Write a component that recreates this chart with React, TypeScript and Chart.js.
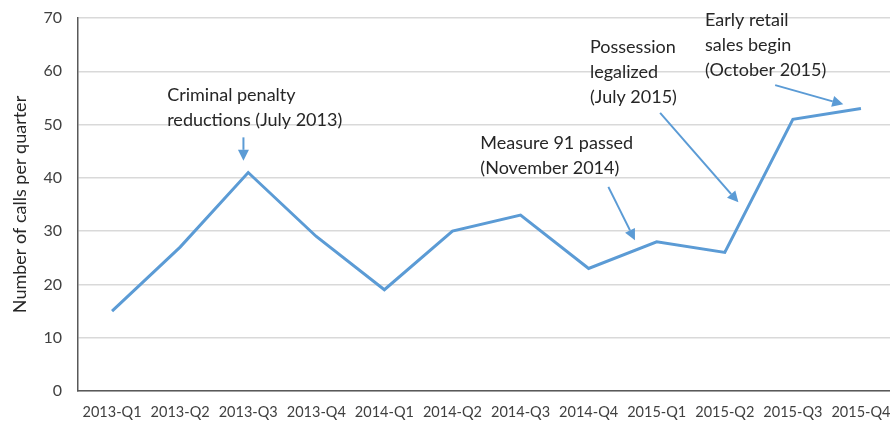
import React, { useEffect, useRef } from "react";
import { Chart, registerables } from "chart.js";

Chart.register(...registerables);

const categories = [
  "2013-Q1", "2013-Q2", "2013-Q3", "2013-Q4",
  "2014-Q1", "2014-Q2", "2014-Q3", "2014-Q4",
  "2015-Q1", "2015-Q2", "2015-Q3", "2015-Q4",
];
const callsPerQuarter = [15, 27, 41, 29, 19, 30, 33, 23, 28, 26, 51, 53];
const yAxisTitle = "Number of calls per quarter";

// annotation texts with anchors in data coordinates (category index, value)
const annotationLines = [
  ["Criminal penalty", "reductions (July 2013)"],
  ["Measure 91 passed", "(November 2014)"],
  ["Possession", "legalized", "(July 2015)"],
  ["Early retail", "sales begin", "(October 2015)"],
];
const annotationTextAt = [
  [0.81, 55.5],
  [5.41, 46.5],
  [7.02, 64.5],
  [8.71, 69.6],
];
const arrowFrom = [
  [1.93, 47.6],
  [7.29, 38.3],
  [8.05, 52.2],
  [9.74, 57.4],
];
const arrowTo = [
  [1.93, 43.2],
  [7.68, 28.3],
  [9.2, 35.4],
  [10.74, 53.8],
];

const FONT = "Lato, 'Open Sans', sans-serif";
const BLUE = "#5B9BD5";

const annotationPlugin = {
  id: "annotations",
  afterDatasetsDraw(chart: any) {
    const { ctx, scales } = chart;
    const xs = scales.x;
    const ys = scales.y;
    ctx.save();
    ctx.font = `18px ${FONT}`;
    ctx.fillStyle = "#262626";
    ctx.textBaseline = "middle";
    ctx.textAlign = "left";
    annotationLines.forEach((lines, i) => {
      const x = xs.getPixelForValue(annotationTextAt[i][0]);
      const y = ys.getPixelForValue(annotationTextAt[i][1]);
      lines.forEach((ln, j) => ctx.fillText(ln, x, y + j * 25));
    });
    ctx.strokeStyle = BLUE;
    ctx.fillStyle = BLUE;
    ctx.lineWidth = 2;
    arrowFrom.forEach((f, i) => {
      const x1 = xs.getPixelForValue(f[0]);
      const y1 = ys.getPixelForValue(f[1]);
      const x2 = xs.getPixelForValue(arrowTo[i][0]);
      const y2 = ys.getPixelForValue(arrowTo[i][1]);
      const ang = Math.atan2(y2 - y1, x2 - x1);
      const head = 11;
      const hw = 5.5;
      const bx = x2 - head * Math.cos(ang);
      const by = y2 - head * Math.sin(ang);
      ctx.beginPath();
      ctx.moveTo(x1, y1);
      ctx.lineTo(bx, by);
      ctx.stroke();
      ctx.beginPath();
      ctx.moveTo(x2, y2);
      ctx.lineTo(bx + hw * Math.sin(ang), by - hw * Math.cos(ang));
      ctx.lineTo(bx - hw * Math.sin(ang), by + hw * Math.cos(ang));
      ctx.closePath();
      ctx.fill();
    });
    ctx.restore();
  },
};

const CANVAS_W = 895;

export default function App() {
  const ref = useRef<HTMLCanvasElement | null>(null);
  useEffect(() => {
    if (!ref.current) return;
    const chart = new Chart(ref.current, {
      type: "line",
      data: {
        labels: categories,
        datasets: [
          {
            data: callsPerQuarter,
            borderColor: BLUE,
            backgroundColor: BLUE,
            borderWidth: 3,
            pointRadius: 0,
            tension: 0,
          },
        ],
      },
      options: {
        animation: false,
        responsive: false,
        maintainAspectRatio: false,
        layout: { padding: { top: 18, right: 0, left: 9, bottom: 0 } },
        plugins: {
          legend: { display: false },
          tooltip: { enabled: false },
        },
        scales: {
          x: {
            offset: true,
            grid: { display: false, drawTicks: false },
            border: { color: "#595959", width: 1.5 },
            afterFit: (s: any) => {
              s.height = 33;
              s.paddingLeft = 0;
              s.paddingRight = 0;
            },
            ticks: {
              color: "#404040",
              font: { family: FONT, size: 14.5 },
              padding: 13,
              maxRotation: 0,
              autoSkip: false,
            },
          },
          y: {
            min: 0,
            max: 70,
            afterFit: (s: any) => {
              s.width = 69;
              s.paddingTop = 0;
              s.paddingBottom = 0;
            },
            ticks: {
              stepSize: 10,
              color: "#404040",
              font: { family: FONT, size: 16 },
              padding: 16,
            },
            grid: { color: "#d9d9d9", lineWidth: 1.5, drawTicks: false },
            border: { color: "#595959", width: 1.5 },
            title: {
              display: true,
              text: yAxisTitle,
              color: "#262626",
              font: { family: FONT, size: 18 },
              padding: { top: 0, bottom: 4 },
            },
          },
        },
      },
      plugins: [annotationPlugin],
    });
    return () => chart.destroy();
  }, []);
  return (
    <div
      style={{
        position: "fixed",
        left: 0,
        top: 0,
        width: 890,
        height: 424,
        overflow: "hidden",
        background: "#fff",
      }}
    >
      <canvas ref={ref} width={CANVAS_W} height={424} style={{ width: CANVAS_W, height: 424 }} />
    </div>
  );
}
